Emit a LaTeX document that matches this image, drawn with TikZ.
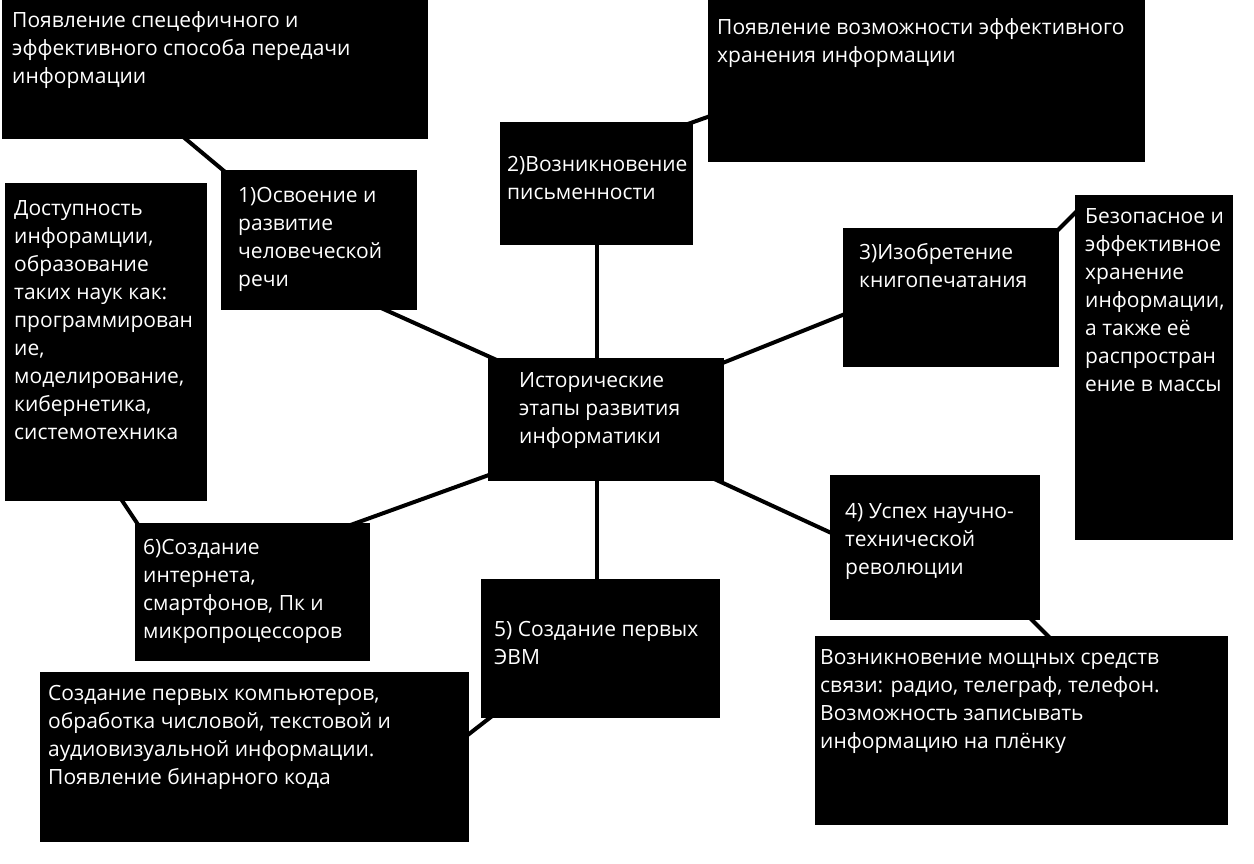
\documentclass[tikz,border=0pt]{standalone}
\usepackage{fontspec}
\setmainfont{Open Sans}
\usetikzlibrary{calc,backgrounds}
\newcommand\txtfont{\fontsize{21}{28}\selectfont}
\newcommand\mkbox[5]{\node[box,minimum width={#4-#2},minimum height={#5-#3}] (#1) at (#2,#3) {};}
\tikzset{
  box/.style={fill=black,draw=none,inner sep=0pt,outer sep=0pt,anchor=north west},
  txt/.style={text=white,font=\txtfont,align=left,inner sep=0pt,anchor=north west},
  conn/.style={line width=4pt,black}
}
\begin{document}
\begin{tikzpicture}[x=1pt,y=-1pt]
\useasboundingbox (0,0) rectangle (1254,863);
% boxes
\mkbox{a}{2}{0}{428}{139}
\mkbox{b1}{221}{170}{417}{310}
\mkbox{b2}{500}{122}{693}{245}
\mkbox{tr}{708}{0}{1145}{162}
\mkbox{l}{5}{183}{207}{501}
\mkbox{b3}{843}{228}{1059}{367}
\mkbox{r}{1075}{195}{1233}{540}
\mkbox{c}{488}{358}{724}{481}
\mkbox{b4}{830}{475}{1040}{620}
\mkbox{b6}{135}{523}{370}{661}
\mkbox{b5}{481}{579}{720}{718}
\mkbox{bl}{40}{672}{469}{842}
\mkbox{br}{815}{636}{1228}{825}
% connectors
\begin{pgfonlayer}{background}
\fill[white] (0,0) rectangle (1254,863);
\draw[conn] ($(a.south west)+(173,-9)$) -- ($(b1.north west)+(9,6)$);
\draw[conn] ($(b2.north east)+(-8,3)$) -- ($(tr.north west)+(8,114)$);
\draw[conn] ($(b3.north east)+(-7,8)$) -- ($(r.north west)+(8,10)$);
\draw[conn] ($(l.south west)+(112,-8)$) -- ($(b6.north west)+(8,9)$);
\draw[conn] ($(bl.north east)+(-9,69)$) -- ($(b5.south west)+(15,-5)$);
\draw[conn] ($(b4.south east)+(-16,-8)$) -- ($(br.north west)+(240,7)$);
\draw[conn] ($(b1.south east)+(-47,-7)$) -- ($(c.north west)+(22,8)$);
\draw[conn] ($(c.north east)+(-14,10)$) -- ($(b3.north west)+(12,82)$);
\draw[conn] ($(b6.north east)+(-25,4)$) -- ($(c.south west)+(12,-10)$);
\draw[conn] ($(c.south east)+(-14,-4)$) -- ($(b4.north west)+(10,62)$);
\draw[conn] (b2.south) -- (b2.south |- c.north);
\draw[conn] (b2.south |- c.south) -- (b2.south |- b5.north);
\end{pgfonlayer}
% texts
\node[txt] (ta) at ($(a.north west)+(10,8)$) {\strut Появление спецефичного и\\эффективного способа передачи\\информации};
\node[txt] (tb1) at ($(b1.north west)+(17,13)$) {\strut 1)Освоение и\\развитие\\человеческой\\речи};
\node[txt] (tb2) at ($(b2.north west)+(7,30)$) {\strut 2)Возникновение\\письменности};
\node[txt] (ttr) at ($(tr.north west)+(9,15)$) {\strut Появление возможности эффективного\\хранения информации};
\node[txt] (tl) at ($(l.north west)+(9,13)$) {\strut Доступность\\инфорамции,\\образование\\таких наук как:\\программирован\\ие,\\моделирование,\\кибернетика,\\системотехника};
\node[txt] (tb3) at ($(b3.north west)+(16,12)$) {\strut 3)Изобретение\\книгопечатания};
\node[txt] (tr2) at ($(r.north west)+(10,9)$) {\strut Безопасное и\\эффективное\\хранение\\информации,\\а также её\\распростран\\ение в массы};
\node[txt] (tc) at ($(c.north west)+(31,10)$) {\strut Исторические\\этапы развития\\информатики};
\node[txt] (tb4) at ($(b4.north west)+(15,24)$) {\strut 4) Успех научно-\\технической\\революции};
\node[txt] (tb6) at ($(b6.north west)+(8,12)$) {\strut 6)Создание\\интернета,\\смартфонов, Пк и\\микропроцессоров};
\node[txt] (tb5) at ($(b5.north west)+(13,38)$) {\strut 5) Создание первых\\ЭВМ};
\node[txt] (tbl) at ($(bl.north west)+(8,9)$) {\strut Создание первых компьютеров,\\обработка числовой, текстовой и\\аудиовизуальной информации.\\Появление бинарного кода};
\node[txt] (tbr) at ($(br.north west)+(5,9)$) {\strut Возникновение мощных средств\\связи: радио, телеграф, телефон.\\Возможность записывать\\информацию на плёнку};
\end{tikzpicture}
\end{document}
